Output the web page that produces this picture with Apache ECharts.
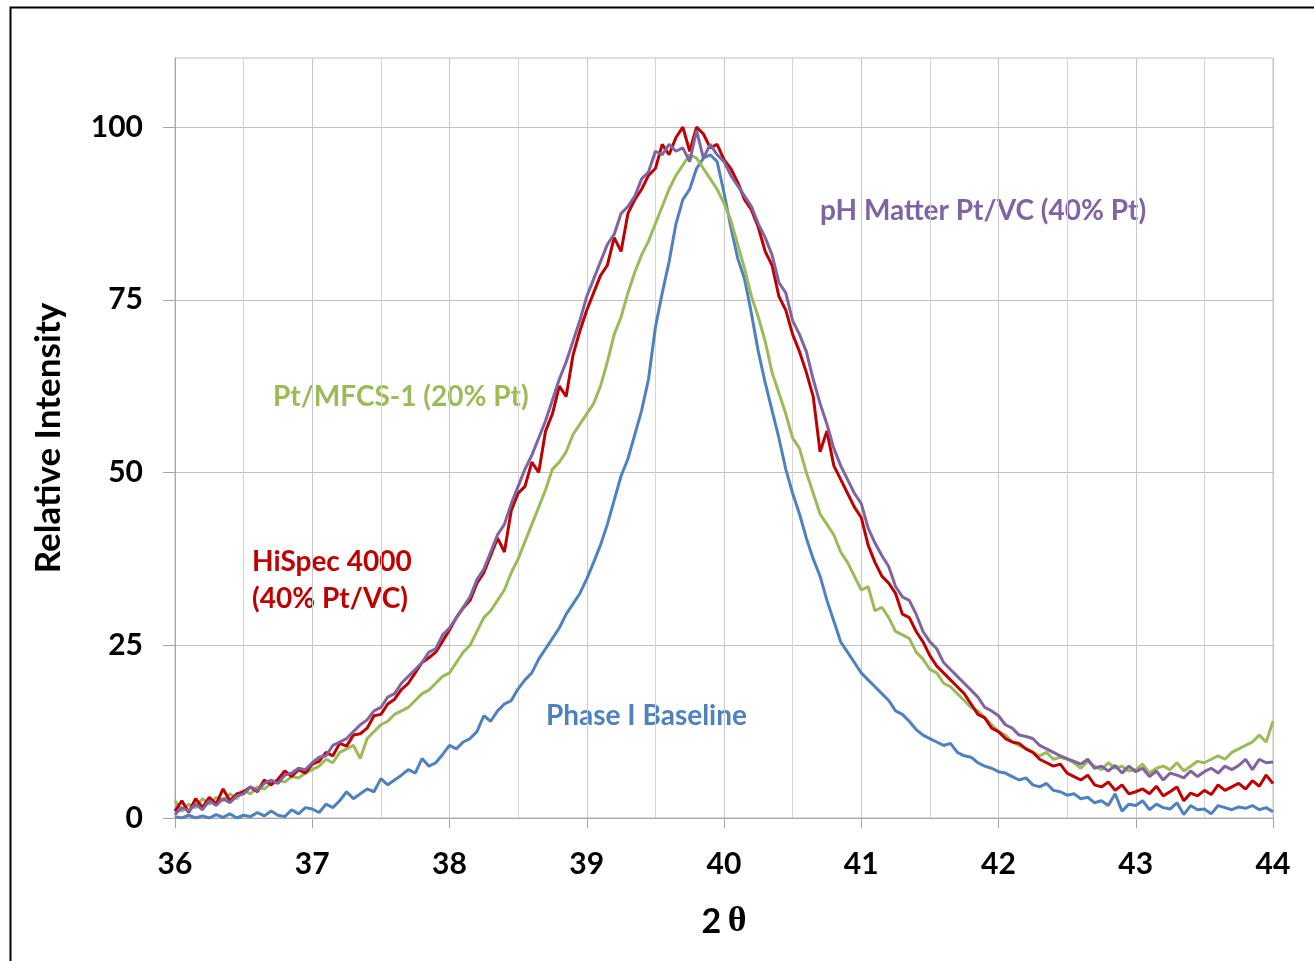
<!DOCTYPE html>
<html>
<head>
<meta charset="utf-8">
<script src="https://cdn.jsdelivr.net/npm/echarts@6/dist/echarts.min.js"></script>
<style>
  html, body { margin: 0; padding: 0; background: #fff; }
  #chart { width: 1314px; height: 961px; }
</style>
</head>
<body>
<div id="chart"></div>
<script>
// 2θ sampling grid: 36.00 .. 44.00 in steps of 0.05 (161 points)
const X_START = 36;
const X_STEP = 0.05;

const xTicks = [36, 37, 38, 39, 40, 41, 42, 43, 44];
const yTicks = [0, 25, 50, 75, 100];

const seriesNames = ['Phase I Baseline', 'Pt/MFCS-1 (20% Pt)', 'HiSpec 4000 (40% Pt/VC)', 'pH Matter Pt/VC (40% Pt)'];

// each row = 0.5 in 2θ (10 samples)
const phaseIBaseline = [
  0.2, 0.0, 0.4, 0.0, 0.3, 0.0, 0.5, 0.1, 0.6, 0.0,
  0.4, 0.2, 0.8, 0.3, 1.0, 0.4, 0.2, 1.2, 0.6, 1.5,
  1.3, 0.8, 2.0, 1.5, 2.5, 3.8, 2.8, 3.5, 4.2, 3.8,
  5.7, 4.8, 5.5, 6.2, 7.0, 6.5, 8.6, 7.5, 8.0, 9.2,
  10.5, 10.0, 11.0, 11.5, 12.5, 14.8, 14.0, 15.5, 16.5, 17.0,
  18.7, 20.0, 21.0, 23.0, 24.5, 26.0, 27.5, 29.5, 31.0, 32.5,
  34.6, 37.0, 39.5, 42.5, 46.0, 49.5, 52.0, 55.5, 59.0, 63.5,
  71.0, 76.0, 80.5, 86.0, 89.5, 91.0, 94.0, 95.5, 96.0, 95.0,
  90.5, 85.5, 81.0, 78.0, 73.0, 67.5, 63.0, 59.0, 55.0, 50.5,
  47.0, 44.0, 40.5, 37.5, 35.0, 31.5, 28.5, 25.5, 24.0, 22.5,
  21.0, 20.0, 19.0, 18.0, 17.0, 15.5, 15.0, 14.0, 12.8, 12.0,
  11.5, 11.0, 10.5, 10.8, 9.5, 9.0, 8.8, 8.0, 7.5, 7.2,
  6.7, 6.5, 6.0, 5.5, 5.8, 4.8, 4.5, 5.0, 4.0, 3.8,
  3.3, 3.5, 2.8, 3.0, 2.2, 2.5, 1.8, 3.5, 1.0, 2.0,
  1.8, 2.5, 1.2, 2.0, 1.5, 1.3, 2.2, 0.5, 1.8, 1.2,
  1.3, 0.6, 1.8, 1.5, 1.2, 1.6, 1.4, 1.8, 1.2, 1.5,
  0.9
];

const ptMfcs1 = [
  2.5, 1.0, 2.0, 1.5, 2.8, 2.0, 3.0, 2.5, 3.5, 2.8,
  4.0, 3.5, 4.5, 4.2, 5.0, 5.5, 5.2, 6.0, 5.8, 6.5,
  7.0, 7.5, 8.5, 8.0, 9.5, 10.0, 10.5, 8.6, 11.5, 12.5,
  13.5, 14.0, 15.0, 15.5, 16.0, 17.0, 18.0, 18.5, 19.5, 20.5,
  21.0, 22.5, 24.0, 25.0, 27.0, 29.0, 30.0, 31.5, 33.0, 35.5,
  37.5, 40.0, 42.5, 45.0, 47.5, 50.5, 51.5, 53.0, 55.5, 57.0,
  58.5, 60.0, 62.5, 66.0, 70.0, 72.5, 76.0, 79.0, 81.5, 83.5,
  86.0, 88.5, 91.0, 93.0, 94.5, 96.0, 95.5, 94.0, 92.5, 91.0,
  89.0, 86.5, 83.0, 79.5, 75.5, 72.5, 69.0, 64.5, 61.5, 58.5,
  55.0, 53.5, 50.0, 47.0, 44.0, 42.5, 41.0, 38.5, 37.0, 35.0,
  33.0, 33.5, 30.0, 30.5, 29.0, 27.0, 26.5, 26.0, 24.0, 23.0,
  21.5, 21.0, 19.5, 19.0, 18.0, 17.0, 16.0, 15.5, 14.5, 13.5,
  12.5, 12.0, 11.0, 10.5, 10.0, 9.5, 9.0, 9.5, 8.5, 8.8,
  8.5, 8.0, 7.2, 8.2, 7.5, 7.0, 8.0, 7.2, 7.5, 6.8,
  7.0, 7.8, 6.5, 7.2, 7.5, 7.0, 8.0, 6.8, 7.5, 8.2,
  8.0, 8.5, 9.0, 8.5, 9.5, 10.0, 10.5, 11.0, 12.0, 11.0,
  14.0
];

const hiSpec4000 = [
  1.0, 2.5, 0.8, 2.8, 1.5, 3.0, 2.0, 4.2, 2.5, 3.5,
  3.8, 4.5, 3.8, 5.5, 4.8, 5.6, 6.8, 6.0, 7.0, 6.5,
  7.8, 8.2, 9.5, 9.0, 10.8, 10.4, 12.0, 12.2, 13.0, 14.8,
  15.0, 16.5, 17.2, 18.6, 19.5, 21.0, 22.5, 23.2, 24.0, 25.6,
  27.2, 29.0, 30.4, 31.5, 34.0, 35.5, 38.0, 40.5, 38.5, 44.5,
  47.0, 48.0, 51.5, 50.0, 56.0, 58.5, 62.5, 61.0, 67.0, 70.5,
  73.5, 76.0, 78.5, 80.0, 84.0, 82.0, 87.5, 89.5, 91.0, 93.0,
  94.0, 97.5, 96.0, 98.5, 100.0, 96.5, 100.0, 99.0, 97.0, 97.5,
  95.3, 94.0, 92.0, 89.5, 88.0, 85.5, 82.0, 80.0, 75.5, 73.5,
  70.0, 67.5, 64.5, 61.0, 53.0, 56.0, 51.0, 49.0, 47.0, 45.0,
  43.5, 39.5, 37.0, 35.0, 34.0, 32.5, 29.5, 29.0, 27.0, 25.5,
  23.5, 22.0, 21.0, 20.0, 19.0, 18.0, 16.5, 15.0, 14.5, 13.0,
  12.5, 11.5, 11.0, 10.8, 10.0, 9.5, 8.5, 8.0, 7.5, 7.8,
  6.5, 6.0, 5.5, 6.2, 4.8, 4.5, 5.2, 4.0, 4.8, 3.5,
  3.8, 4.2, 3.5, 4.6, 3.2, 3.8, 4.5, 2.5, 3.6, 3.2,
  4.0, 3.4, 4.8, 4.0, 4.5, 5.0, 4.2, 5.4, 4.6, 6.2,
  5.0
];

const phMatter = [
  0.5, 1.5, 1.0, 2.0, 1.2, 2.5, 1.8, 2.8, 2.2, 3.2,
  3.5, 4.5, 4.0, 5.0, 5.5, 5.0, 6.2, 6.5, 7.2, 7.0,
  8.0, 8.8, 9.0, 10.5, 11.0, 11.5, 12.5, 13.5, 14.2, 15.5,
  16.0, 17.5, 18.0, 19.5, 20.5, 21.5, 22.5, 24.0, 24.5, 26.5,
  27.5, 29.0, 30.5, 32.0, 34.5, 36.0, 38.5, 41.0, 42.5, 45.5,
  48.0, 50.5, 52.5, 55.0, 57.5, 60.5, 63.5, 66.0, 69.0, 72.0,
  75.5, 78.0, 80.5, 83.0, 84.5, 87.5, 88.5, 90.0, 92.5, 93.5,
  96.5, 96.0, 97.5, 96.5, 97.0, 95.0, 99.5, 95.5, 97.5, 96.0,
  95.0, 93.0, 91.5, 90.0, 88.5, 86.0, 84.0, 81.5, 77.5, 76.0,
  72.0, 70.0, 67.5, 63.5, 60.0, 57.0, 53.5, 51.0, 49.0, 47.0,
  45.5, 42.0, 39.8, 38.0, 36.4, 33.5, 32.0, 31.5, 29.5, 27.0,
  25.5, 24.5, 22.5, 21.5, 20.5, 19.5, 18.5, 17.5, 16.0, 15.5,
  14.8, 13.5, 13.0, 12.0, 11.8, 11.5, 10.5, 10.0, 9.5, 9.0,
  8.6, 8.2, 7.8, 8.5, 7.2, 7.5, 6.8, 7.6, 6.5, 7.5,
  6.7, 7.2, 6.0, 6.8, 5.5, 6.5, 6.2, 5.8, 6.8, 6.0,
  6.7, 7.2, 6.5, 7.5, 7.0, 7.6, 8.5, 7.0, 8.5, 8.0,
  8.1
];

const COLORS = ['#4F81BD', '#9BBB59', '#C00000', '#8064A2'];
const FONT = 'Lato, "Open Sans", sans-serif';

function pairs(vals) {
  const out = [];
  for (let i = 0; i < vals.length; i++) {
    out.push([+(X_START + i * X_STEP).toFixed(2), vals[i]]);
  }
  return out;
}

const chart = echarts.init(document.getElementById('chart'), null, { renderer: 'canvas' });

const seriesData = [phaseIBaseline, ptMfcs1, hiSpec4000, phMatter];

const option = {
  backgroundColor: '#ffffff',
  animation: false,
  grid: {
    left: 175, right: 41, top: 58, bottom: 143,
    show: true, borderColor: '#bfbfbf', borderWidth: 1
  },
  xAxis: {
    type: 'value',
    min: 36, max: 44, interval: 1,
    name: '{a|2}{s| }{b|θ}',
    nameLocation: 'middle',
    nameGap: 86,
    nameTextStyle: {
      rich: {
        a: { fontFamily: FONT, fontWeight: 'bold', fontSize: 34, color: '#000' },
        s: { fontFamily: FONT, fontSize: 26 },
        b: { fontFamily: '"Liberation Serif", serif', fontWeight: 'bold', fontSize: 36, color: '#000' }
      }
    },
    axisLine: { show: true, lineStyle: { color: '#a6a6a6', width: 1 } },
    axisTick: { show: true, inside: false, length: 10, lineStyle: { color: '#a6a6a6' }, customValues: xTicks },
    axisLabel: { fontFamily: FONT, fontWeight: 'bold', fontSize: 30, color: '#000', margin: 31, customValues: xTicks },
    splitLine: { show: true, lineStyle: { color: '#c8c8c8', width: 1 } },
    minorTick: { show: false, splitNumber: 2 },
    minorSplitLine: { show: true, lineStyle: { color: '#d4d4d4', width: 1 } }
  },
  yAxis: {
    type: 'value',
    min: 0, max: 110, interval: 25,
    name: 'Relative Intensity',
    nameLocation: 'middle',
    nameGap: 109,
    nameRotate: 90,
    nameTextStyle: { fontFamily: FONT, fontWeight: 'bold', fontSize: 35, color: '#000' },
    axisLine: { show: true, lineStyle: { color: '#a6a6a6', width: 1 } },
    axisTick: { show: true, inside: false, length: 12, lineStyle: { color: '#a6a6a6' }, customValues: yTicks },
    axisLabel: { fontFamily: FONT, fontWeight: 'bold', fontSize: 30, color: '#000', margin: 32, customValues: yTicks },
    splitLine: { show: true, lineStyle: { color: '#bfbfbf', width: 1 } }
  },
  series: seriesData.map((vals, i) => ({
    name: seriesNames[i],
    type: 'line',
    data: pairs(vals),
    showSymbol: false,
    symbol: 'none',
    lineStyle: { color: COLORS[i], width: 3 },
    itemStyle: { color: COLORS[i] },
    clip: true,
    z: 2 + i
  })),
  graphic: [
    { type: 'rect', left: 8, top: 5, shape: { width: 1400, height: 1000 }, style: { fill: 'none', stroke: '#000', lineWidth: 2 }, silent: true },
    { type: 'text', x: 820, y: 211, style: { text: 'pH Matter Pt/VC (40% Pt)', font: 'bold 28px ' + FONT, fill: COLORS[3], verticalAlign: 'middle', align: 'left' } },
    { type: 'text', x: 273, y: 397, style: { text: 'Pt/MFCS-1 (20% Pt)', font: 'bold 28px ' + FONT, fill: COLORS[1], verticalAlign: 'middle', align: 'left' } },
    { type: 'text', x: 252, y: 562, style: { text: 'HiSpec 4000', font: 'bold 28px ' + FONT, fill: COLORS[2], verticalAlign: 'middle', align: 'left' } },
    { type: 'text', x: 252, y: 599, style: { text: '(40% Pt/VC)', font: 'bold 28px ' + FONT, fill: COLORS[2], verticalAlign: 'middle', align: 'left' } },
    { type: 'text', x: 546, y: 716, style: { text: 'Phase I Baseline', font: 'bold 28px ' + FONT, fill: COLORS[0], verticalAlign: 'middle', align: 'left' } }
  ]
};

chart.setOption(option);
</script>
</body>
</html>
